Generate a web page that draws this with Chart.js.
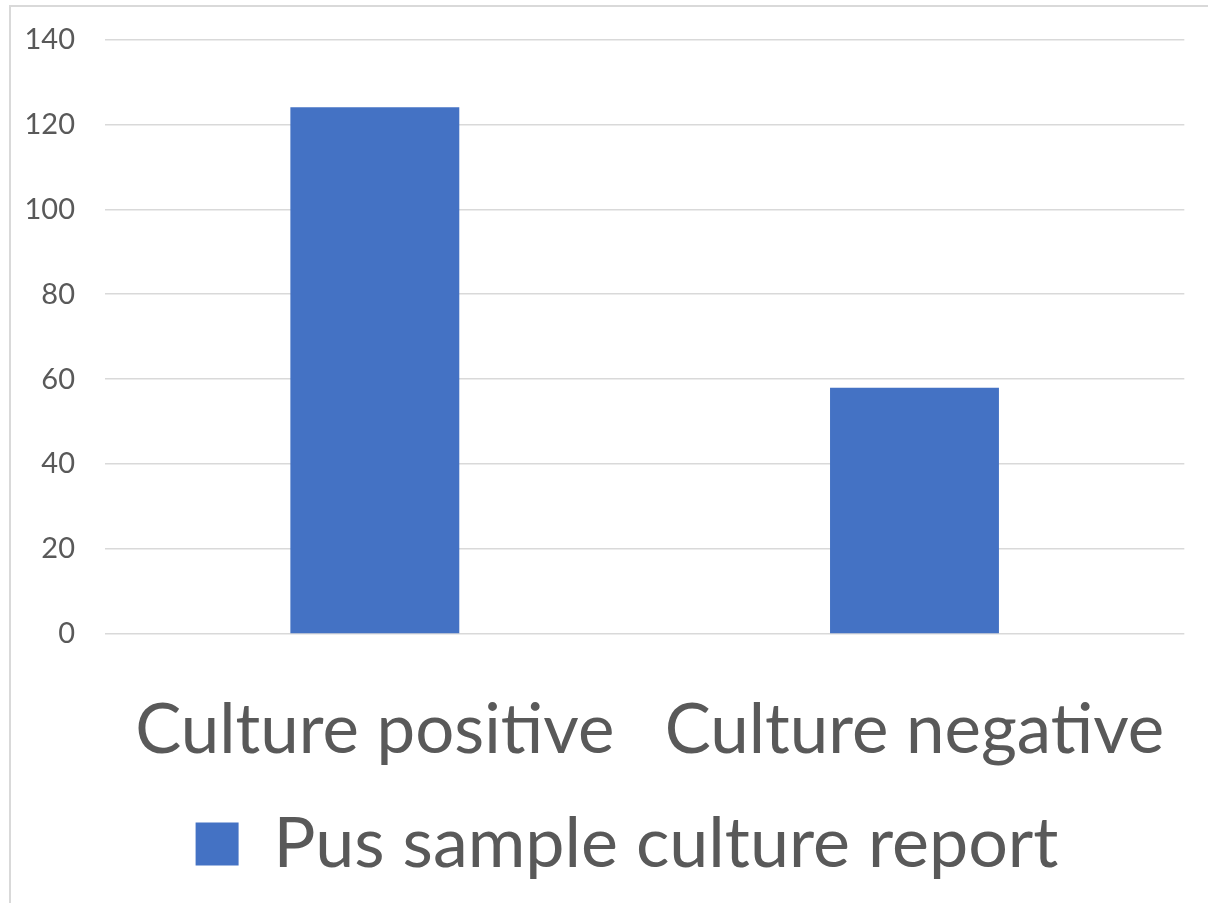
<!DOCTYPE html>
<html>
<head>
<meta charset="utf-8">
<script src="https://cdn.jsdelivr.net/npm/chart.js@4"></script>
<style>
  html, body { margin: 0; padding: 0; background: #fff; overflow: hidden; }
  #frame {
    position: absolute; left: 9px; top: 5px; width: 1300px; height: 1000px;
    border-left: 2px solid #d9d9d9; border-top: 2px solid #d9d9d9;
  }
  #wrap { position: absolute; left: 0; top: -8px; width: 1217px; height: 911px; }
</style>
</head>
<body>
<div id="frame"></div>
<div id="wrap"><canvas id="chart"></canvas></div>
<script>
// data
const categories = ["Culture positive", "Culture negative"];
const seriesName = "Pus sample culture report";
const seriesValues = [124, 58];
const yTicks = [0, 20, 40, 60, 80, 100, 120, 140];

const textColor = "#595959";
const fontFamily = "Lato, 'Open Sans', sans-serif";

// legend sits a bit right of centre in the original
const legendShift = {
  id: "legendShift",
  afterLayout(chart) {
    chart.legend.left += 30;
    chart.legend.right += 30;
  }
};

const ctx = document.getElementById("chart").getContext("2d");
new Chart(ctx, {
  type: "bar",
  data: {
    labels: categories,
    datasets: [{
      label: seriesName,
      data: seriesValues,
      backgroundColor: "#4472c4",
      borderWidth: 0,
      categoryPercentage: 1,
      barPercentage: 0.313
    }]
  },
  plugins: [legendShift],
  options: {
    responsive: true,
    maintainAspectRatio: false,
    animation: false,
    layout: { autoPadding: false, padding: { top: 39, right: 23, bottom: 14, left: 0 } },
    plugins: {
      tooltip: { enabled: false },
      legend: {
        position: "bottom",
        labels: {
          color: textColor,
          font: { family: fontFamily, size: 70 },
          boxWidth: 43,
          boxHeight: 43,
          padding: 20
        }
      }
    },
    scales: {
      x: {
        afterFit: function(scale) { scale.height = 155; },
        grid: { display: false },
        border: { display: false },
        ticks: {
          color: textColor,
          font: { family: fontFamily, size: 69 },
          padding: 47,
          maxRotation: 0
        }
      },
      y: {
        min: 0,
        max: 140,
        afterFit: function(scale) { scale.width = 105; },
        afterBuildTicks: function(scale) {
          scale.ticks = yTicks.map(v => ({ value: v }));
        },
        grid: { color: "#d9d9d9", lineWidth: 1.5, drawTicks: false },
        border: { display: false },
        ticks: {
          color: textColor,
          font: { family: fontFamily, size: 29 },
          padding: 30
        }
      }
    }
  }
});
</script>
</body>
</html>
